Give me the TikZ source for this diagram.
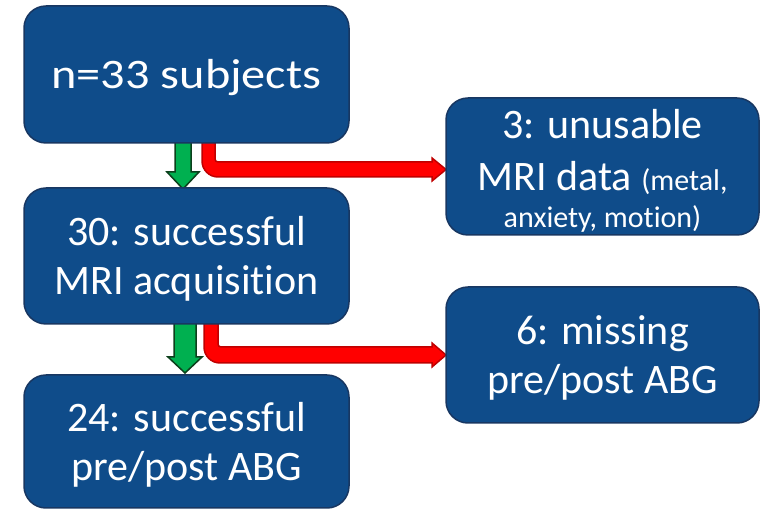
\documentclass[tikz,border=0pt]{standalone}
\usepackage{fontspec}
\setmainfont{Carlito}[Ligatures=CommonOff]
\newfontfamily\widefont{Carlito}[FakeStretch=1.15, Ligatures=CommonOff]
\definecolor{boxfill}{RGB}{15,76,138}
\definecolor{boxedge}{RGB}{24,55,98}
\definecolor{okfill}{RGB}{0,176,80}
\definecolor{okedge}{RGB}{12,64,28}
\definecolor{dropfill}{RGB}{255,0,0}
\definecolor{dropedge}{RGB}{192,0,0}
\tikzset{
  stagebox/.style={draw=boxedge, fill=boxfill, line width=1.5pt, rounded corners=22pt,
    inner sep=0pt},
  boxtext/.style={text=white, inner sep=0pt, align=center,
    font=\fontsize{42}{49}\selectfont},
  okarrow/.style={draw=okedge, fill=okfill, line width=1.5pt, line join=miter},
  droparrow/.style={draw=dropedge, fill=dropfill, line width=1.5pt, line join=miter},
}
\begin{document}
\begin{tikzpicture}[x=1pt,y=-1pt]
\useasboundingbox (0,0) rectangle (761,510);

% green flow arrows (drawn first, tucked under the boxes)
\draw[okarrow] (175,140) -- (175,172) -- (167,172) -- (183,189) -- (199,172) -- (191,172) -- (191,140) -- cycle;
\draw[okarrow] (174,322) -- (174,357) -- (168,357) -- (185,373) -- (202,357) -- (196,357) -- (196,322) -- cycle;

% red exclusion arrows
\draw[droparrow] (202,140) [rounded corners=16pt]-- (202,177) [sharp corners]-- (432,177) -- (432,181) -- (446,169.5)
  -- (432,158) -- (432,162) [rounded corners=3pt]-- (215,162) [sharp corners]-- (215,140) -- cycle;
\draw[droparrow] (204,322) [rounded corners=16pt]-- (204,363) [sharp corners]-- (432,363) -- (432,367) -- (446,355)
  -- (432,343) -- (432,347) [rounded corners=3pt]-- (218,347) [sharp corners]-- (218,322) -- cycle;

% stage boxes
\node[stagebox, minimum width=325pt, minimum height=137pt] (b1) at (186.5,74.5) {};
\node[stagebox, minimum width=325pt, minimum height=136pt] (b2) at (186.5,256) {};
\node[stagebox, minimum width=325pt, minimum height=133pt] (b3) at (186.5,441.5) {};
\node[boxtext, font=\widefont\fontsize{42}{49}\selectfont] (t1) at ([yshift=-3pt]b1.center) {n=33 subjects};
\node[boxtext] (t2) at ([yshift=-3pt]b2.center) {30: successful\\MRI acquisition};
\node[boxtext] (t3) at ([yshift=-3pt]b3.center) {24: successful\\pre/post ABG};

% exclusion boxes
\node[stagebox, minimum width=313pt, minimum height=137pt] (r1) at (602.5,166.5) {};
\node[stagebox, minimum width=313pt, minimum height=136pt] (r2) at (602.5,355) {};
\node[boxtext, font=\fontsize{42}{52}\selectfont] (t4) at ([yshift=-4pt]r1.center)
  {3: unusable\\MRI data {\fontsize{30}{34}\selectfont (metal,}\\[-15pt]{\fontsize{30}{34}\selectfont anxiety, motion)}};
\node[boxtext] (t5) at ([yshift=-3pt]r2.center) {6: missing\\pre/post ABG};
\end{tikzpicture}
\end{document}
